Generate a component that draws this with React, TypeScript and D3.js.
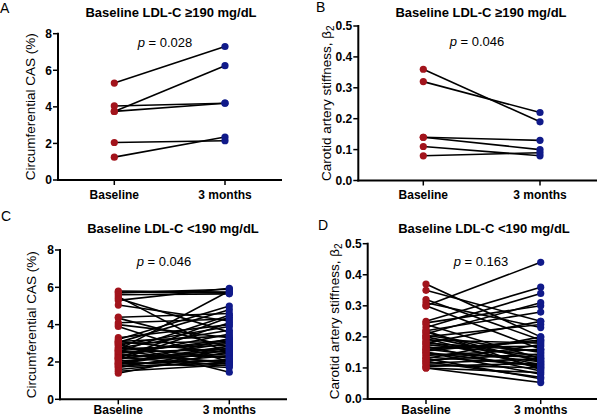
import React from "react";
import * as d3 from "d3";

const categories = ["Baseline", "3 months"];

// Panel A: Circumferential CAS, LDL-C >=190
const aBaseline = [5.3, 3.75, 4.05, 3.75, 2.05, 1.25];
const aMonths = [7.3, 6.25, 4.2, 4.2, 2.15, 2.35];
// Panel B: beta2, LDL-C >=190
const bBaseline = [0.36, 0.32, 0.14, 0.14, 0.11, 0.08];
const bMonths = [0.19, 0.22, 0.13, 0.1, 0.08, 0.09];
// Panel C: Circumferential CAS, LDL-C <190
const cBaseline = [5.8, 5.75, 5.7, 5.6, 5.5, 5.4, 5.3, 5.05, 4.4, 4.35, 4.1, 4.0, 3.9, 3.3, 3.2, 3.1, 3.05, 3.0, 2.95, 2.9, 2.8, 2.75, 2.7, 2.65, 2.6, 2.55, 2.5, 2.45, 2.4, 2.35, 2.3, 2.25, 2.2, 2.15, 2.1, 2.05, 2.0, 1.95, 1.9, 1.85, 1.8, 1.75, 1.7, 1.6, 1.5, 1.4, 2.6, 2.2, 1.9, 3.1];
const cMonths = [5.75, 5.7, 5.9, 5.65, 2.4, 3.6, 5.95, 4.2, 4.6, 2.8, 4.3, 3.3, 2.0, 4.0, 5.0, 2.5, 4.8, 3.1, 1.45, 3.9, 2.2, 3.7, 2.9, 5.8, 1.9, 4.5, 2.7, 3.2, 2.0, 2.3, 3.5, 1.8, 2.6, 3.0, 4.1, 2.45, 1.7, 2.85, 2.1, 3.25, 2.35, 1.95, 2.65, 2.15, 1.85, 2.55, 3.05, 4.4, 2.75, 3.4];
// Panel D: beta2, LDL-C <190
const dBaseline = [0.37, 0.35, 0.32, 0.31, 0.3, 0.3, 0.25, 0.245, 0.24, 0.23, 0.22, 0.215, 0.21, 0.205, 0.2, 0.195, 0.19, 0.185, 0.18, 0.175, 0.17, 0.165, 0.16, 0.155, 0.15, 0.145, 0.14, 0.135, 0.13, 0.125, 0.12, 0.115, 0.11, 0.105, 0.1, 0.1, 0.2, 0.18, 0.15, 0.12, 0.22, 0.16, 0.13];
const dMonths = [0.2, 0.25, 0.19, 0.23, 0.44, 0.16, 0.36, 0.3, 0.13, 0.34, 0.28, 0.12, 0.31, 0.15, 0.24, 0.1, 0.18, 0.11, 0.25, 0.14, 0.09, 0.17, 0.12, 0.19, 0.08, 0.135, 0.16, 0.11, 0.2, 0.145, 0.07, 0.13, 0.1, 0.115, 0.053, 0.085, 0.125, 0.155, 0.105, 0.175, 0.095, 0.185, 0.065];

const casTicks = [0, 2, 4, 6, 8];
const betaTicks = [0, 0.1, 0.2, 0.3, 0.4, 0.5];

const FONT = "'Liberation Sans', Arial, Helvetica, sans-serif";
const RED = "#a2141c";
const BLUE = "#101a8a";

type PanelProps = {
  letter: string; lx: number; ly: number;
  title: string; titleX: number; titleY: number;
  pText: string; pX: number; pY: number;
  yLabel: "cas" | "beta"; yLabelX: number;
  axisX: number; axisEnd: number; y0: number; yTop: number;
  cat0: number; cat1: number;
  ticks: number[]; yMax: number; fmt: (v: number) => string;
  base: number[]; after: number[]; labelY: number;
};

function Panel(p: PanelProps) {
  const y = d3.scaleLinear().domain([0, p.yMax]).range([p.y0, p.yTop]);
  const x = d3.scalePoint<string>().domain(categories).range([p.cat0, p.cat1]);
  const xb = x("Baseline")!;
  const xm = x("3 months")!;
  const yMid = (p.y0 + p.yTop) / 2;
  return (
    <g fontFamily={FONT}>
      <text x={p.lx} y={p.ly} fontSize={14}>{p.letter}</text>
      <text x={p.titleX} y={p.titleY} fontSize={13} fontWeight="bold" textAnchor="middle">{p.title}</text>
      <text x={p.pX} y={p.pY} fontSize={13} textAnchor="middle">
        <tspan fontStyle="italic">p</tspan> = {p.pText}
      </text>
      <text transform={`translate(${p.yLabelX},${yMid}) rotate(-90)`} fontSize={13.5} textAnchor="middle">
        {p.yLabel === "cas" ? "Circumferential CAS (%)" : (
          <>Carotid artery stiffness, β<tspan fontSize={10} dy={3}>2</tspan></>
        )}
      </text>
      {p.base.map((b, i) => (
        <line key={"l" + i} x1={xb} y1={y(b)} x2={xm} y2={y(p.after[i])} stroke="#000" strokeWidth={1.6} />
      ))}
      {p.base.map((b, i) => (
        <circle key={"b" + i} cx={xb} cy={y(b)} r={3.6} fill={RED} />
      ))}
      {p.after.map((a, i) => (
        <circle key={"a" + i} cx={xm} cy={y(a)} r={3.6} fill={BLUE} />
      ))}
      <line x1={p.axisX} y1={p.y0 + 1} x2={p.axisX} y2={y(p.yMax) - 1} stroke="#000" strokeWidth={2} />
      <line x1={p.axisX - 1} y1={p.y0} x2={p.axisEnd} y2={p.y0} stroke="#000" strokeWidth={2} />
      {p.ticks.map((t) => (
        <g key={"t" + t}>
          <line x1={p.axisX - 5} x2={p.axisX} y1={y(t)} y2={y(t)} stroke="#000" strokeWidth={1.5} />
          <text x={p.axisX - 6} y={y(t) + 4.3} fontSize={12} fontWeight="bold" textAnchor="end">{p.fmt(t)}</text>
        </g>
      ))}
      {categories.map((c) => (
        <g key={c}>
          <line x1={x(c)!} x2={x(c)!} y1={p.y0} y2={p.y0 + 5} stroke="#000" strokeWidth={1.5} />
          <text x={x(c)!} y={p.labelY} fontSize={12} fontWeight="bold" textAnchor="middle">{c}</text>
        </g>
      ))}
    </g>
  );
}

export default function App() {
  const f0 = d3.format("d");
  const f1 = d3.format(".1f");
  return (
    <svg width={600} height={417} style={{ position: "absolute", left: 0, top: 0, background: "#fff" }}>
      <Panel letter="A" lx={0} ly={13} title="Baseline LDL-C ≥190 mg/dL" titleX={171} titleY={17}
        pText="0.028" pX={165} pY={47} yLabel="cas" yLabelX={35}
        axisX={58} axisEnd={282} y0={180} yTop={33.7} cat0={114.3} cat1={225}
        ticks={casTicks} yMax={8} fmt={f0} base={aBaseline} after={aMonths} labelY={199} />
      <Panel letter="B" lx={316} ly={12} title="Baseline LDL-C ≥190 mg/dL" titleX={481} titleY={17}
        pText="0.046" pX={477} pY={46} yLabel="beta" yLabelX={331}
        axisX={358.3} axisEnd={597} y0={180.5} yTop={26} cat0={423.3} cat1={540}
        ticks={betaTicks} yMax={0.5} fmt={f1} base={bBaseline} after={bMonths} labelY={199} />
      <Panel letter="C" lx={1} ly={221} title="Baseline LDL-C <190 mg/dL" titleX={173} titleY={233}
        pText="0.046" pX={164} pY={266} yLabel="cas" yLabelX={36}
        axisX={60} axisEnd={287} y0={399.3} yTop={250} cat0={118.3} cat1={229.3}
        ticks={casTicks} yMax={8} fmt={f0} base={cBaseline} after={cMonths} labelY={413.5} />
      <Panel letter="D" lx={318} ly={230} title="Baseline LDL-C <190 mg/dL" titleX={484} titleY={233}
        pText="0.163" pX={481} pY={266} yLabel="beta" yLabelX={339}
        axisX={367.7} axisEnd={597} y0={399} yTop={243.7} cat0={426} cat1={540.7}
        ticks={betaTicks} yMax={0.5} fmt={f1} base={betaTicks ? dBaseline : dBaseline} after={dMonths} labelY={413.5} />
    </svg>
  );
}
